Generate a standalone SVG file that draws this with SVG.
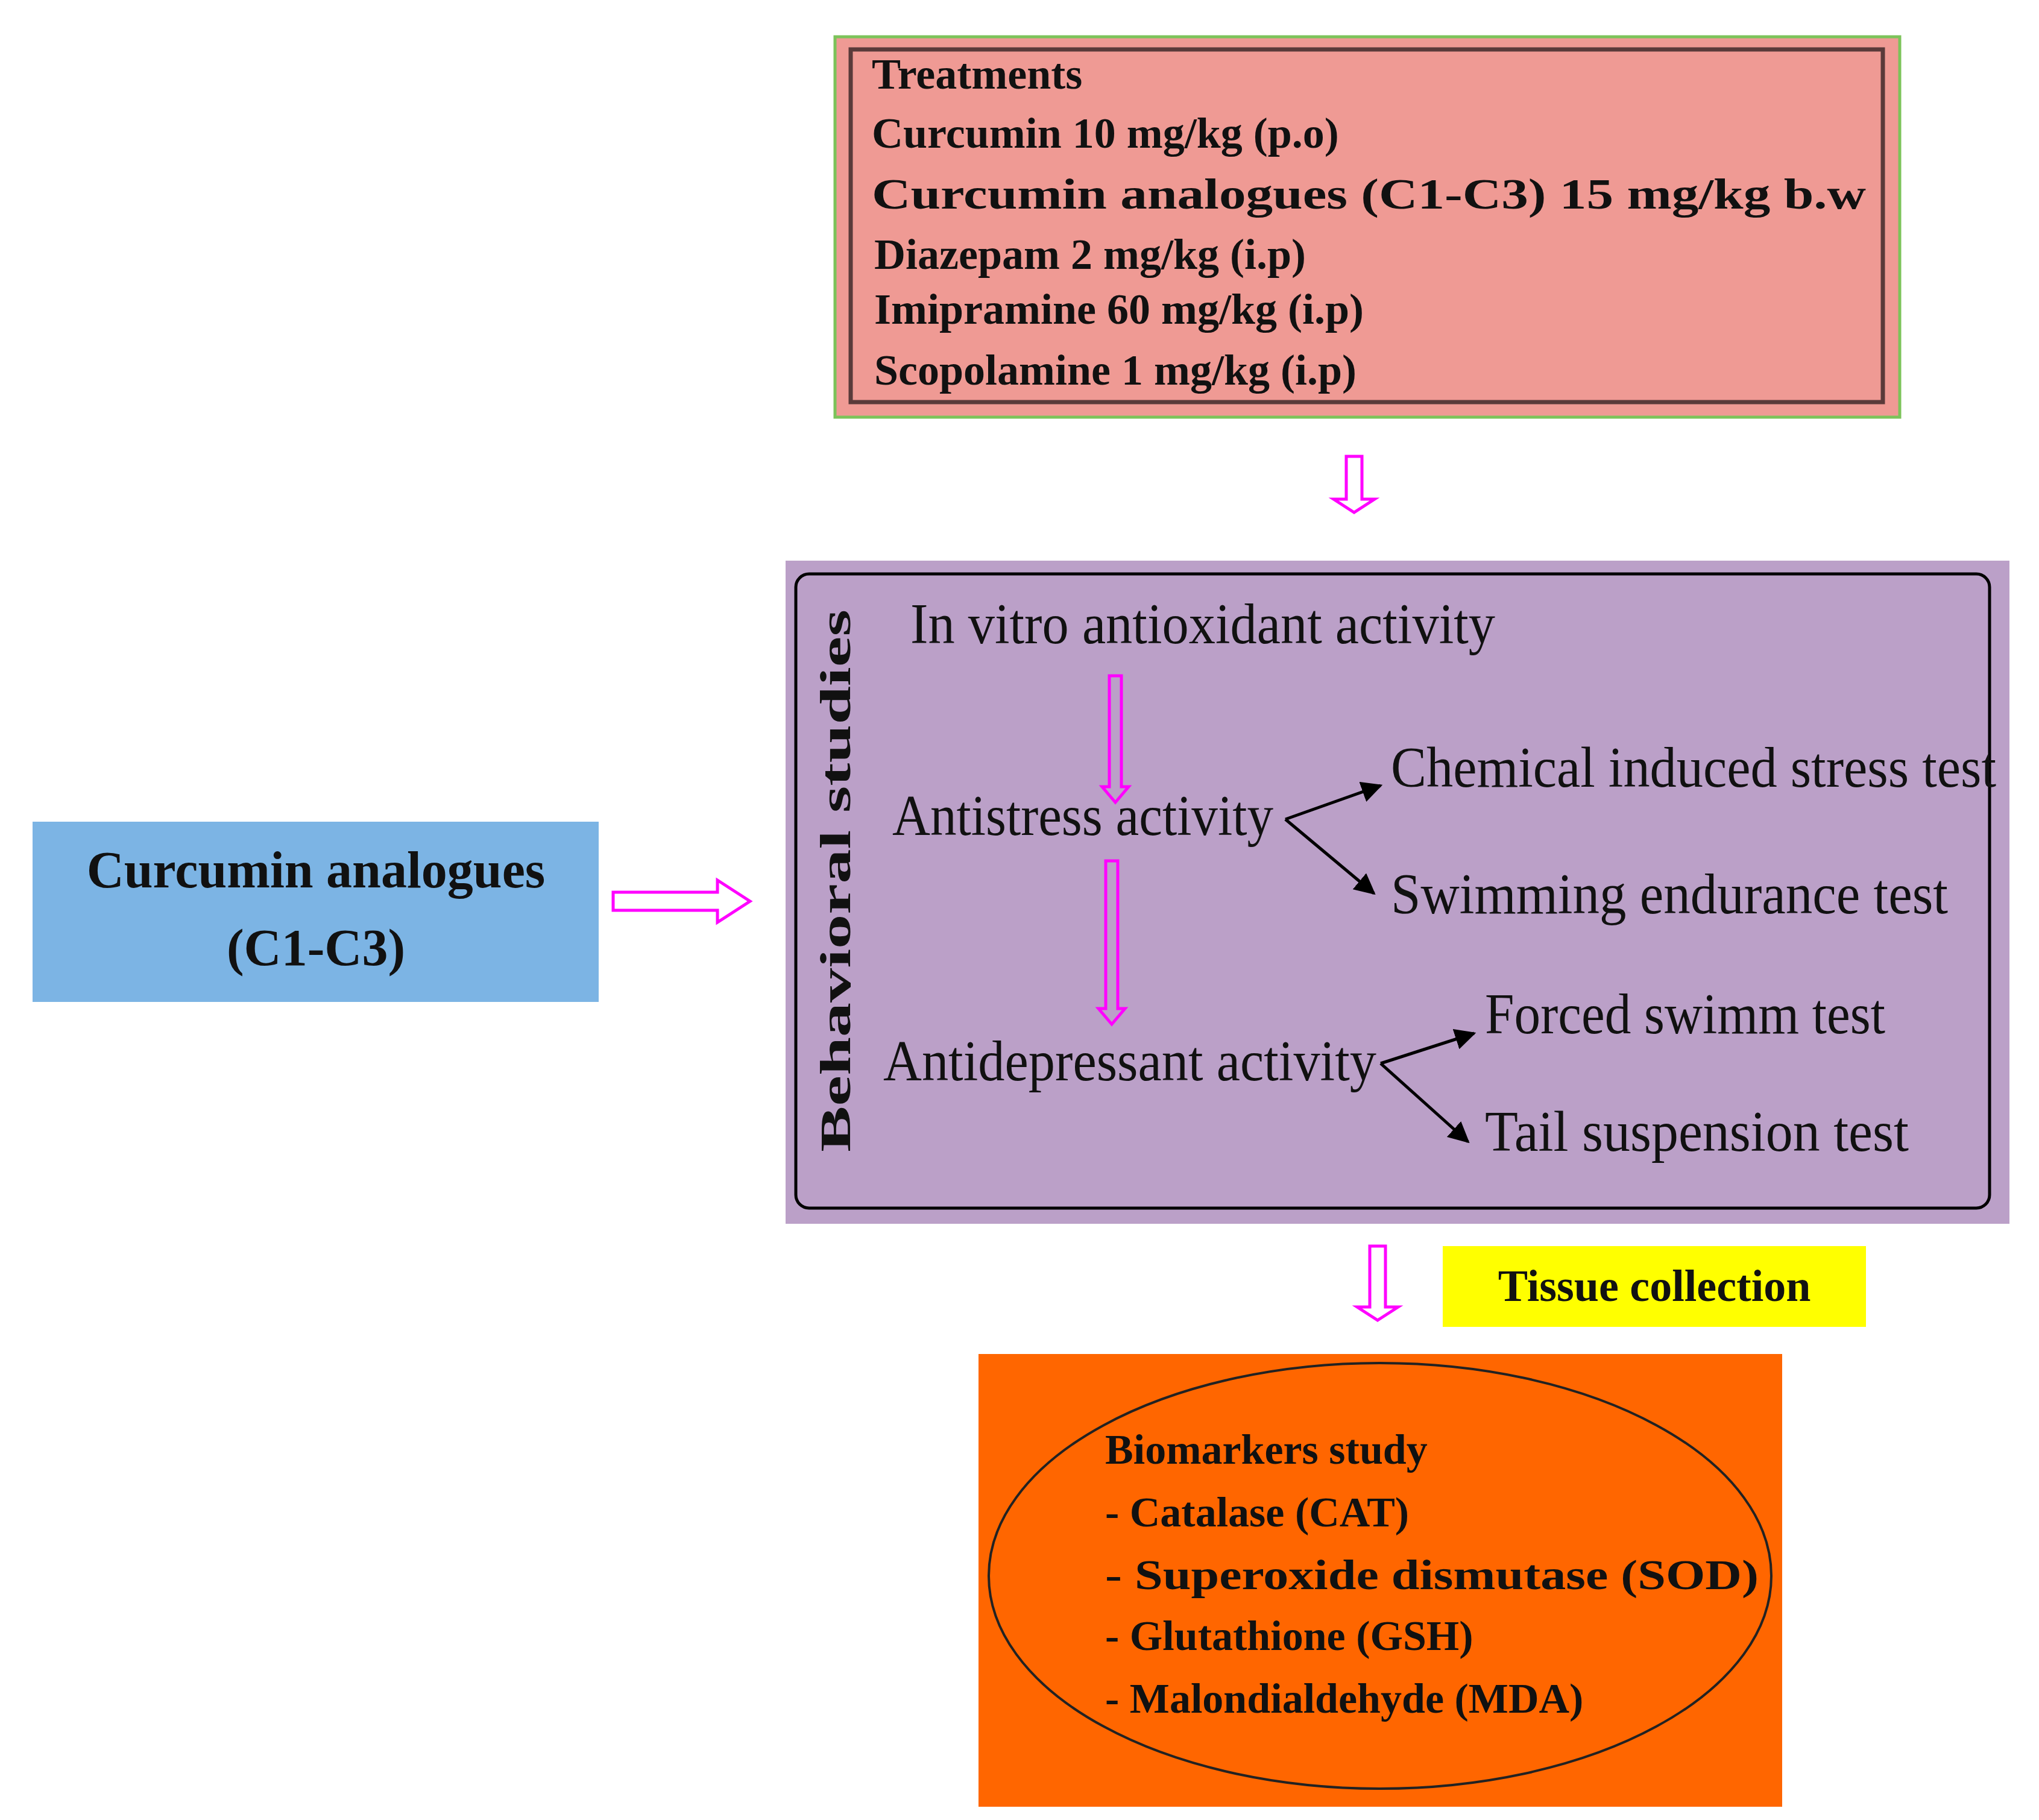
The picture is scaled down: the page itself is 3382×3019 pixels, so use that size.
<svg xmlns="http://www.w3.org/2000/svg" width="3382" height="3019" viewBox="0 0 3382 3019">
<style>
.b{font-family:"Liberation Serif",serif;font-weight:bold;fill:#111}
.n{font-family:"Liberation Serif",serif;fill:#111}
.ha{fill:none;stroke:#ff00ff;stroke-width:5}
.ln{stroke:#000;stroke-width:5;fill:none}
</style>
<defs><marker id="ah" viewBox="0 0 10 10" refX="9" refY="5" markerWidth="7" markerHeight="7" orient="auto"><path d="M0,0 L10,5 L0,10 Z" fill="#000"/></marker></defs>
<rect width="3382" height="3019" fill="#fff"/>
<g id="treatments">
<rect x="1385" y="61" width="1766" height="631" fill="#ef9a94" stroke="#7cc35a" stroke-width="5"/>
<rect x="1411" y="82" width="1712" height="585" fill="none" stroke="#5a3a3a" stroke-width="7"/>
<text class="b" font-size="72" x="1446" y="147">Treatments</text>
<text class="b" font-size="72" x="1446" y="245">Curcumin 10 mg/kg (p.o)</text>
<text class="b" font-size="72" x="1446" y="346" textLength="1649" lengthAdjust="spacingAndGlyphs">Curcumin analogues (C1-C3) 15 mg/kg b.w</text>
<text class="b" font-size="72" x="1450" y="446">Diazepam 2 mg/kg (i.p)</text>
<text class="b" font-size="72" x="1450" y="537">Imipramine 60 mg/kg (i.p)</text>
<text class="b" font-size="72" x="1450" y="638">Scopolamine 1 mg/kg (i.p)</text>
</g>
<g id="behavioral">
<rect x="1303" y="930" width="2030" height="1100" fill="#bba0c8"/>
<rect x="1320" y="952" width="1980" height="1052" rx="22" fill="none" stroke="#000" stroke-width="5"/>
<text class="b" font-size="72" transform="translate(1410,1461) rotate(-90)" text-anchor="middle" textLength="900" lengthAdjust="spacingAndGlyphs">Behavioral studies</text>
<text class="n" font-size="95" x="1510" y="1067" textLength="970" lengthAdjust="spacingAndGlyphs">In vitro antioxidant activity</text>
<text class="n" font-size="95" x="1480" y="1385" textLength="632" lengthAdjust="spacingAndGlyphs">Antistress activity</text>
<text class="n" font-size="95" x="2307" y="1305" textLength="1004" lengthAdjust="spacingAndGlyphs">Chemical induced stress test</text>
<text class="n" font-size="95" x="2307" y="1515" textLength="924" lengthAdjust="spacingAndGlyphs">Swimming endurance test</text>
<text class="n" font-size="95" x="1465" y="1792" textLength="818" lengthAdjust="spacingAndGlyphs">Antidepressant activity</text>
<text class="n" font-size="95" x="2463" y="1714" textLength="664" lengthAdjust="spacingAndGlyphs">Forced swimm test</text>
<text class="n" font-size="95" x="2463" y="1909" textLength="703" lengthAdjust="spacingAndGlyphs">Tail suspension test</text>
</g>
<g id="curcumin">
<rect x="54" y="1363" width="939" height="299" fill="#7cb4e4"/>
<text class="b" font-size="86" x="524" y="1472" text-anchor="middle">Curcumin analogues</text>
<text class="b" font-size="86" x="524" y="1601" text-anchor="middle">(C1-C3)</text>
</g>
<g id="tissue">
<rect x="2393" y="2067" width="702" height="134" fill="#ffff00"/>
<text class="b" font-size="74" x="2744" y="2158" text-anchor="middle">Tissue collection</text>
</g>
<g id="biomarkers">
<rect x="1623" y="2246" width="1333" height="751" fill="#ff6600"/>
<ellipse cx="2289" cy="2614" rx="649" ry="353" fill="none" stroke="#222" stroke-width="4"/>
<text class="b" font-size="70" x="1833" y="2428">Biomarkers study</text>
<text class="b" font-size="70" x="1833" y="2532">- Catalase (CAT)</text>
<text class="b" font-size="70" x="1833" y="2636" textLength="1084" lengthAdjust="spacingAndGlyphs">- Superoxide dismutase (SOD)</text>
<text class="b" font-size="70" x="1833" y="2737">- Glutathione (GSH)</text>
<text class="b" font-size="70" x="1833" y="2841">- Malondialdehyde (MDA)</text>
</g>
<g id="connectors">
<path class="ha" d="M2233,757 H2259 V828 H2280 L2246,850 L2212,828 H2233 Z"/>
<path class="ha" d="M1840,1121 H1860 V1305 H1872 L1850,1331 L1828,1305 H1840 Z"/>
<path class="ha" d="M1834,1428 H1854 V1673 H1866 L1844,1699 L1822,1673 H1834 Z"/>
<path class="ha" d="M2272,2067 H2298 V2168 H2319 L2285,2190 L2251,2168 H2272 Z"/>
<path class="ha" d="M1017,1480 H1190 V1460 L1244,1495 L1190,1530 V1510 H1017 Z"/>
<line class="ln" x1="2132" y1="1359" x2="2290" y2="1303" marker-end="url(#ah)"/>
<line class="ln" x1="2132" y1="1359" x2="2279" y2="1482" marker-end="url(#ah)"/>
<line class="ln" x1="2290" y1="1764" x2="2445" y2="1714" marker-end="url(#ah)"/>
<line class="ln" x1="2290" y1="1764" x2="2435" y2="1894" marker-end="url(#ah)"/>
</g>
</svg>
